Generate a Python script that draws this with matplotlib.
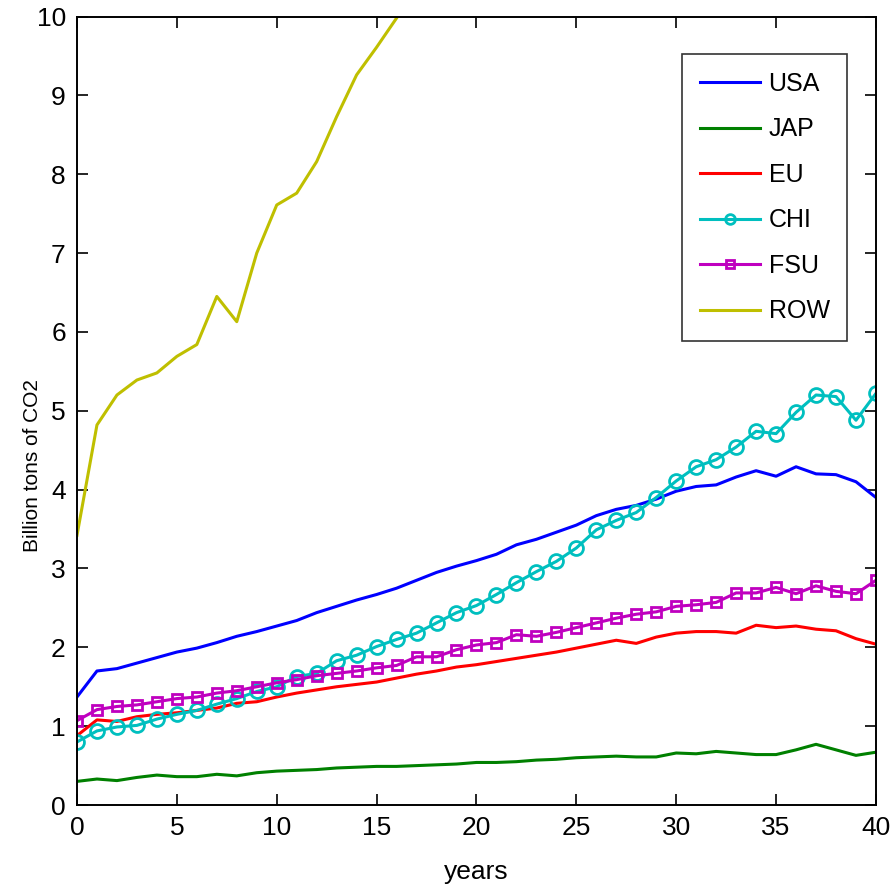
import matplotlib
matplotlib.use('Agg')
import matplotlib.pyplot as plt
import numpy as np
from matplotlib import font_manager

# 字体: 优先用窄体
names = {f.name for f in font_manager.fontManager.ttflist}
if 'Liberation Sans Narrow' in names:
    plt.rcParams['font.family'] = ['Liberation Sans Narrow', 'Liberation Sans', 'DejaVu Sans']
else:
    plt.rcParams['font.family'] = ['Liberation Sans', 'DejaVu Sans']

years = np.arange(0, 41)

usa = [1.37, 1.70, 1.73, 1.80, 1.87, 1.94, 1.99, 2.06, 2.14, 2.20,
       2.27, 2.34, 2.44, 2.52, 2.60, 2.67, 2.75, 2.85, 2.95, 3.03,
       3.10, 3.18, 3.30, 3.37, 3.46, 3.55, 3.67, 3.75, 3.80, 3.88,
       3.98, 4.04, 4.06, 4.16, 4.24, 4.17, 4.29, 4.20, 4.19, 4.10, 3.90]
jap = [0.30, 0.33, 0.31, 0.35, 0.38, 0.36, 0.36, 0.39, 0.37, 0.41,
       0.43, 0.44, 0.45, 0.47, 0.48, 0.49, 0.49, 0.50, 0.51, 0.52,
       0.54, 0.54, 0.55, 0.57, 0.58, 0.60, 0.61, 0.62, 0.61, 0.61,
       0.66, 0.65, 0.68, 0.66, 0.64, 0.64, 0.70, 0.77, 0.70, 0.63, 0.67]
eu = [0.88, 1.08, 1.06, 1.12, 1.15, 1.17, 1.20, 1.23, 1.29, 1.31,
      1.37, 1.42, 1.46, 1.50, 1.53, 1.56, 1.61, 1.66, 1.70, 1.75,
      1.78, 1.82, 1.86, 1.90, 1.94, 1.99, 2.04, 2.09, 2.05, 2.13,
      2.18, 2.20, 2.20, 2.18, 2.28, 2.25, 2.27, 2.23, 2.21, 2.11, 2.04]
chi = [0.80, 0.94, 0.99, 1.01, 1.09, 1.15, 1.20, 1.28, 1.35, 1.44,
       1.50, 1.63, 1.67, 1.83, 1.90, 2.01, 2.10, 2.18, 2.31, 2.44,
       2.53, 2.67, 2.82, 2.96, 3.09, 3.26, 3.49, 3.61, 3.71, 3.90,
       4.11, 4.29, 4.38, 4.54, 4.74, 4.71, 4.98, 5.20, 5.18, 4.88, 5.22]
fsu = [1.07, 1.21, 1.25, 1.27, 1.31, 1.35, 1.37, 1.42, 1.45, 1.50,
       1.55, 1.59, 1.64, 1.67, 1.70, 1.74, 1.77, 1.88, 1.88, 1.97,
       2.03, 2.06, 2.16, 2.14, 2.19, 2.25, 2.31, 2.37, 2.42, 2.45,
       2.52, 2.54, 2.57, 2.69, 2.69, 2.76, 2.68, 2.78, 2.71, 2.68, 2.85]
# ROW 超出10以后的部分在图外
row = [3.42, 4.82, 5.20, 5.39, 5.48, 5.69, 5.84, 6.45, 6.13, 7.00,
       7.61, 7.76, 8.16, 8.73, 9.26, 9.61, 9.98, 10.40]

fig = plt.figure(figsize=(8.92, 8.93), dpi=100)
ax = fig.add_axes([0.0863, 0.0985, 0.8957, 0.883])

lw = 2.2
ax.plot(years, usa, color=(0, 0, 1), lw=lw, label='USA')
ax.plot(years, jap, color=(0, 0.5, 0), lw=lw, label='JAP')
ax.plot(years, eu, color=(1, 0, 0), lw=lw, label='EU')
ax.plot(years, chi, color=(0, 0.75, 0.75), lw=lw, marker='o', ms=10,
        mfc='none', mew=2, label='CHI')
ax.plot(years, fsu, color=(0.75, 0, 0.75), lw=lw, marker='s', ms=7.5,
        mfc='none', mew=2, label='FSU')
ax.plot(years[:len(row)], row, color=(0.75, 0.75, 0), lw=lw, label='ROW')

ax.set_xlim(0, 40)
ax.set_ylim(0, 10)
ax.set_xticks(np.arange(0, 41, 5))
ax.set_yticks(np.arange(0, 11, 1))
ax.tick_params(direction='in', length=8, width=1.2, labelsize=19,
               top=True, right=True, pad=8)
for s in ax.spines.values():
    s.set_linewidth(1.4)

ax.set_xlabel('years', fontsize=19, labelpad=14)
ax.set_ylabel('Billion tons of CO2', fontsize=15)
ax.yaxis.set_label_coords(-0.044, 0.43)

leg = ax.legend(loc='upper right', bbox_to_anchor=(0.964, 0.952), fontsize=18,
                frameon=True, fancybox=False, edgecolor='black',
                handlelength=2.4, handletextpad=0.35, labelspacing=0.86,
                borderpad=0.7, borderaxespad=0, markerscale=0.7)
leg.get_frame().set_linewidth(1.2)

fig.savefig('out.png', dpi=100)
